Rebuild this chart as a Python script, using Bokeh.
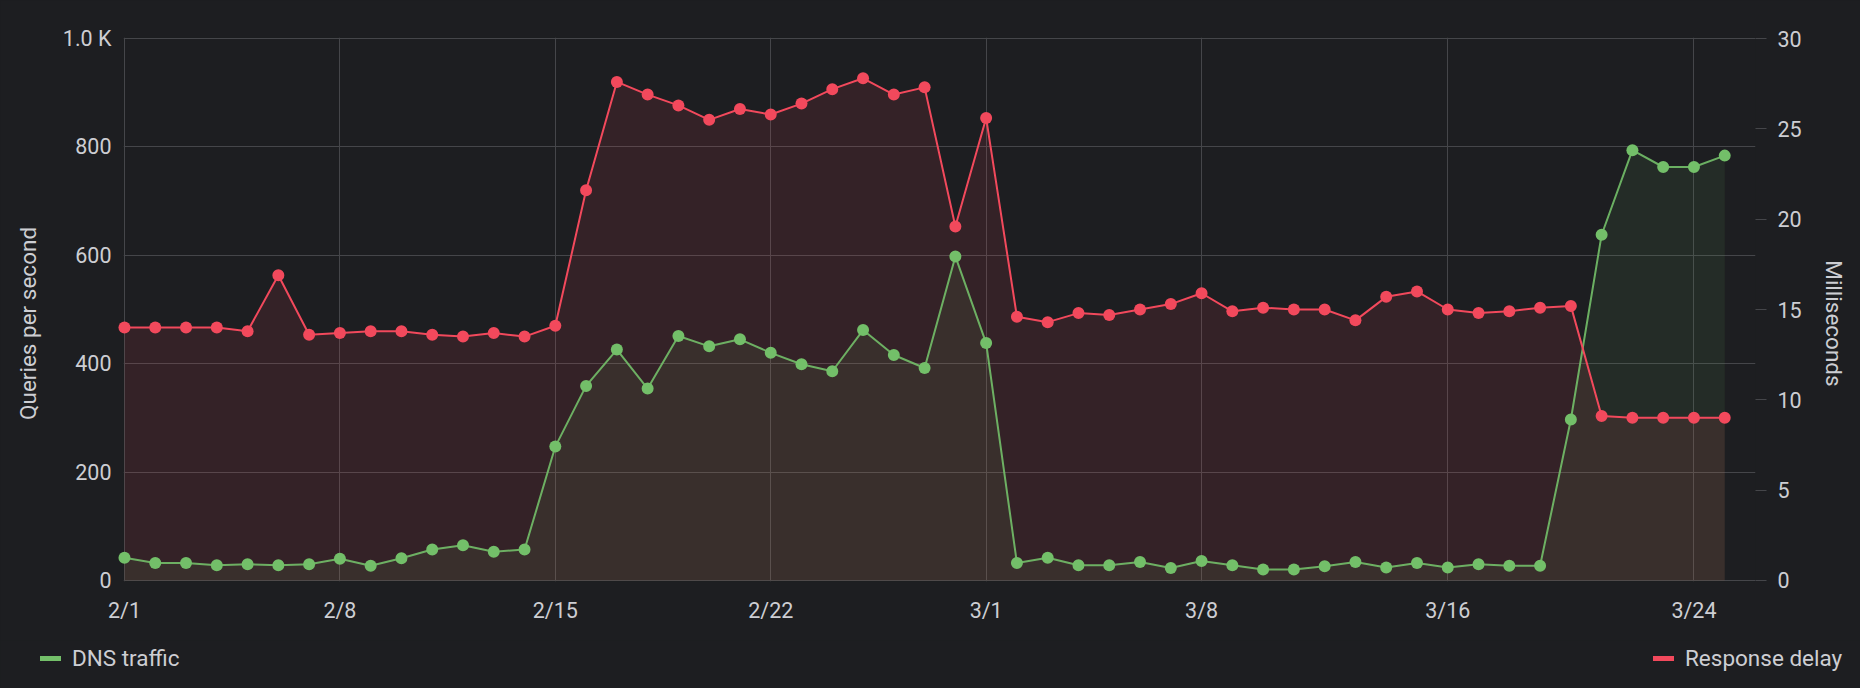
import pandas as pd
from bokeh.plotting import figure
from bokeh.layouts import column
from bokeh.models import (Range1d, LinearAxis, FixedTicker, CustomJSTickFormatter,
                          Legend, LegendItem, ColumnDataSource)
from bokeh.embed import file_html
from bokeh.resources import INLINE

# ---------------- data ----------------
first_day = "2023-02-01"
last_day = "2023-03-25"
dates = pd.date_range(first_day, last_day, freq="D")

dns_traffic = [
    42, 32, 32, 28, 30, 28, 30, 40, 27, 41, 57, 65, 53, 57, 247, 359, 426,
    354, 451, 432, 445, 420, 399, 386, 462, 416, 392, 598, 438,
    32, 42, 28, 28, 34, 23, 36, 28,
    20, 20, 26, 34, 24, 32, 24, 30, 27, 27, 297, 638, 794, 763, 763, 784,
]
response_delay = [
    14.0, 14.0, 14.0, 14.0, 13.8, 16.9, 13.6, 13.7, 13.8, 13.8, 13.6, 13.5, 13.7, 13.5, 14.1, 21.6, 27.6,
    26.9, 26.3, 25.5, 26.1, 25.8, 26.4, 27.2, 27.8, 26.9, 27.3, 19.6, 25.6,
    14.6, 14.3, 14.8, 14.7, 15.0, 15.3, 15.9, 14.9,
    15.1, 15.0, 15.0, 14.4, 15.7, 16.0, 15.0, 14.8, 14.9, 15.1, 15.2, 9.1, 9.0, 9.0, 9.0, 9.0,
]
date_ticks = ["2023-02-01", "2023-02-08", "2023-02-15", "2023-02-22",
              "2023-03-01", "2023-03-08", "2023-03-16", "2023-03-24"]
qps_ticks = [0, 200, 400, 600, 800, 1000]
qps_tick_labels = {1000: "1.0 K"}
ms_ticks = [0, 5, 10, 15, 20, 25, 30]
series_names = ["DNS traffic", "Response delay"]
left_title = "Queries per second"
right_title = "Milliseconds"

# ---------------- style ----------------
BG = "#1d1e21"
GRID = "#45464a"
TEXT = "#cdced3"
GREEN = "#73bf69"
RED = "#f2495c"
FONT = "Roboto"
PAD = "\u00a0" * 5   # nudges the rotated axis titles slightly downward

W = 1860
H_MAIN = 640
H_LEG = 48
EDGE = 0.004         # fraction of a range kept as margin so edge grid lines stay visible


def ms(ts):
    return pd.Timestamp(ts).value / 1e6


def no_frame_align(fig):
    if "frame_align" in fig.properties():
        fig.frame_align = False


x0, x1 = ms(first_day), ms("2023-03-26")
x_pad = (x1 - x0) * 0.0006
q_lo, q_hi = 0, 1000
m_lo, m_hi = 0, 30

src = ColumnDataSource(dict(date=dates, dns=dns_traffic, delay=response_delay))

p = figure(width=W, height=H_MAIN, x_axis_type="datetime",
           output_backend="svg", toolbar_location=None, title=None,
           background_fill_color=BG, border_fill_color=BG,
           outline_line_color=None,
           min_border_left=123, min_border_right=105,
           min_border_top=37, min_border_bottom=H_MAIN - 581,
           x_range=Range1d(x0 - x_pad, x1),
           y_range=Range1d(q_lo - (q_hi - q_lo) * EDGE / 2, q_hi + (q_hi - q_lo) * EDGE / 2))
p.extra_y_ranges = {"ms": Range1d(m_lo - (m_hi - m_lo) * EDGE / 2,
                                  m_hi + (m_hi - m_lo) * EDGE / 2)}
no_frame_align(p)

# fills
p.varea(x="date", y1=0, y2="delay", source=src, fill_color=RED, fill_alpha=0.11,
        y_range_name="ms")
p.varea(x="date", y1=0, y2="dns", source=src, fill_color=GREEN, fill_alpha=0.09)

# lines and points
p.line("date", "dns", source=src, line_color=GREEN, line_width=2, line_alpha=0.9)
p.line("date", "delay", source=src, line_color=RED, line_width=2, y_range_name="ms")
p.scatter("date", "dns", source=src, size=12, fill_color=GREEN, line_color=None,
          level="overlay")
p.scatter("date", "delay", source=src, size=12, fill_color=RED, line_color=None,
          y_range_name="ms", level="overlay")

# x axis
xa = p.xaxis[0]
xa.ticker = FixedTicker(ticks=[ms(d) for d in date_ticks], minor_ticks=[])
xa.formatter = CustomJSTickFormatter(
    code="const d = new Date(tick); return (d.getUTCMonth()+1) + '/' + d.getUTCDate();")
xa.axis_line_color = None
xa.major_tick_line_color = None
xa.minor_tick_line_color = None
xa.major_tick_out = 0
xa.major_label_standoff = 16

# left axis
ya = p.yaxis[0]
ya.ticker = FixedTicker(ticks=qps_ticks, minor_ticks=[])
ya.major_label_overrides = qps_tick_labels
ya.axis_line_color = None
ya.major_tick_line_color = None
ya.minor_tick_line_color = None
ya.major_tick_out = 0
ya.major_label_standoff = 12
ya.axis_label = left_title + PAD
ya.axis_label_standoff = 19

# right axis
ra = LinearAxis(y_range_name="ms", ticker=FixedTicker(ticks=ms_ticks, minor_ticks=[]))
ra.axis_line_color = None
ra.major_tick_line_color = GRID
ra.major_tick_in = 0
ra.major_tick_out = 11
ra.minor_tick_line_color = None
ra.major_label_standoff = 11
ra.axis_label = PAD + right_title
ra.axis_label_standoff = 16
p.add_layout(ra, "right")

for ax in (xa, ya, ra):
    ax.major_label_text_font = FONT
    ax.major_label_text_font_size = "21.5px"
    ax.major_label_text_color = TEXT
    ax.axis_label_text_font = FONT
    ax.axis_label_text_font_size = "22.5px"
    ax.axis_label_text_font_style = "normal"
    ax.axis_label_text_color = TEXT

p.xgrid.grid_line_color = GRID
p.ygrid.grid_line_color = GRID

# ---------------- legend strip ----------------
q = figure(width=W, height=H_LEG, output_backend="svg", toolbar_location=None,
           title=None, background_fill_color=BG, border_fill_color=BG,
           outline_line_color=None, min_border=0,
           x_range=Range1d(0, W), y_range=Range1d(0, H_LEG),
           x_axis_location=None, y_axis_location=None)
q.grid.visible = False
no_frame_align(q)
nan = float("nan")
lg = q.line(x=[nan], y=[nan], line_color=GREEN, line_width=5, line_cap="round")
lr = q.line(x=[nan], y=[nan], line_color=RED, line_width=5, line_cap="round")


def add_legend(label, rend, loc):
    leg = Legend(items=[LegendItem(label=label, renderers=[rend])],
                 location=loc, orientation="horizontal",
                 padding=0, margin=0, spacing=0,
                 border_line_color=None, background_fill_alpha=0,
                 glyph_width=21, glyph_height=26, label_height=26,
                 label_standoff=11,
                 label_text_font=FONT, label_text_font_size="22.5px",
                 label_text_color=TEXT)
    q.add_layout(leg, "center")


add_legend(series_names[0], lg, (40, 17))
add_legend(series_names[1], lr, (1653, 17))

layout = column(p, q, spacing=0, styles={"background-color": BG})

open("out.html", "w").write(file_html(layout, INLINE))
